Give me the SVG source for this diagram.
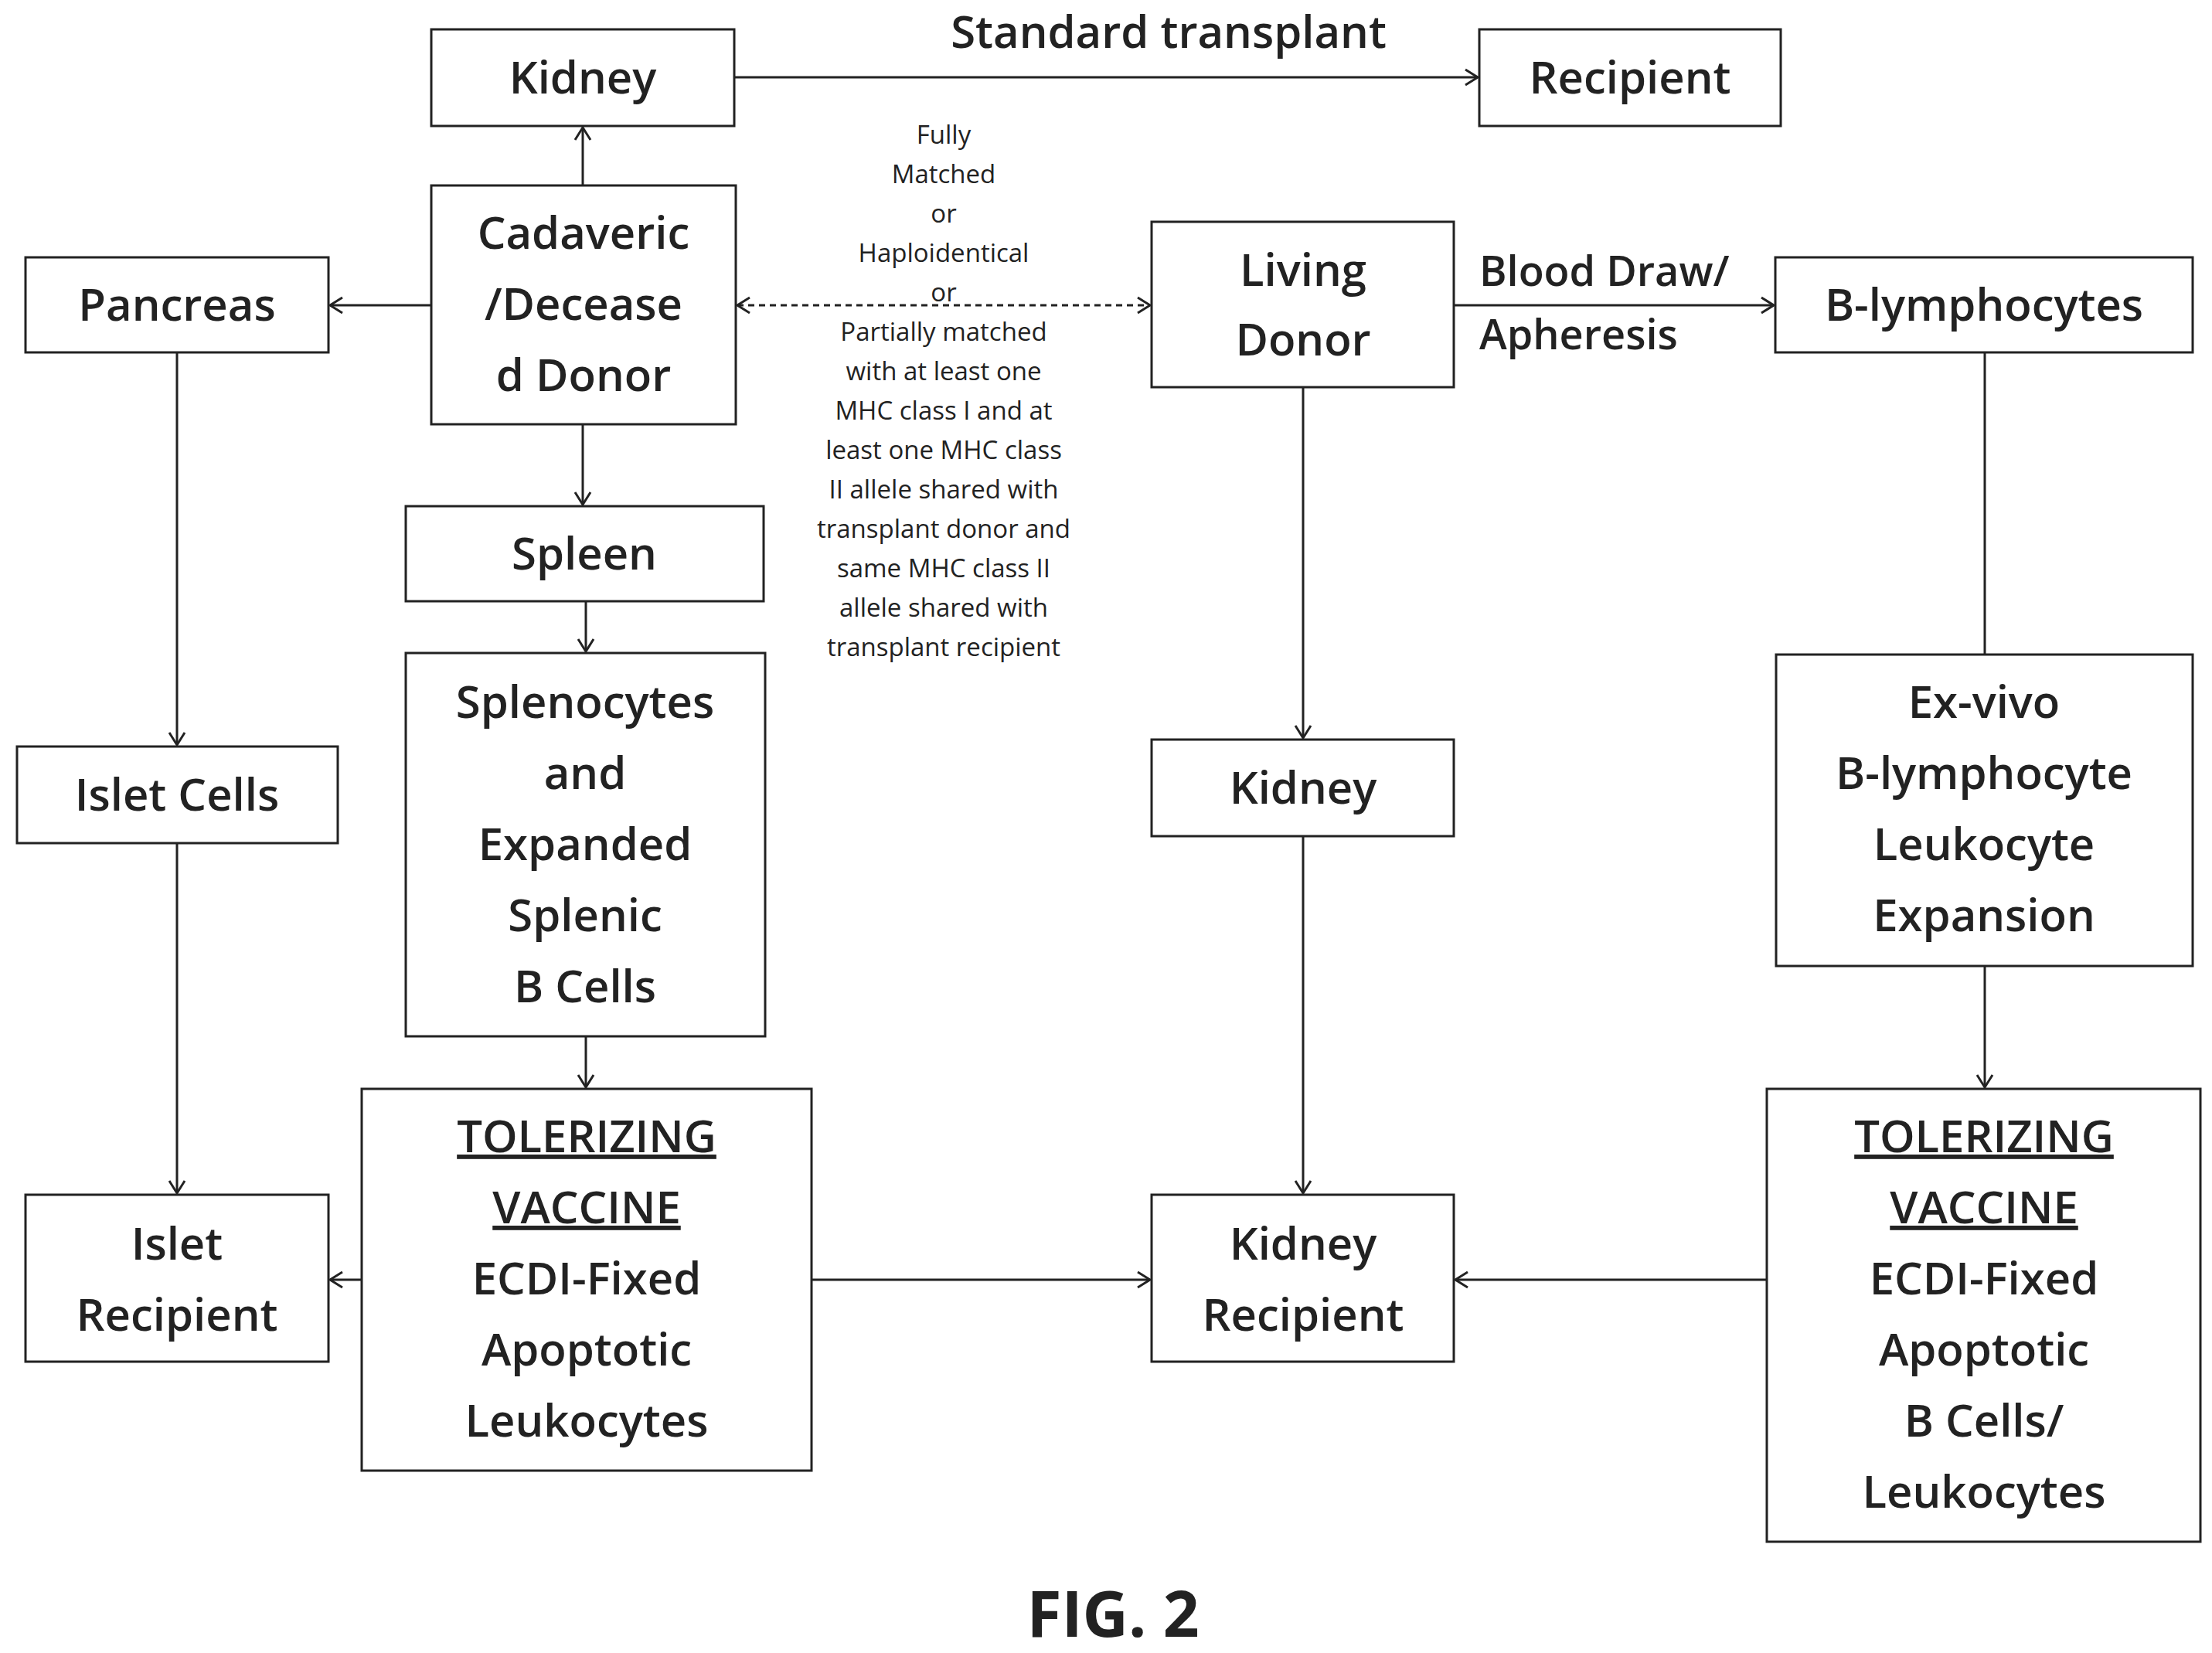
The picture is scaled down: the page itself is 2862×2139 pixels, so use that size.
<svg xmlns="http://www.w3.org/2000/svg" width="2862" height="2139" viewBox="0 0 2862 2139">
<style>
.b{fill:#fff;stroke:#222;stroke-width:3}
.t{font-family:"Open Sans",sans-serif;font-weight:600;font-size:58px;fill:#222;text-anchor:middle}
.l{font-family:"Open Sans",sans-serif;font-weight:600;font-size:54px;fill:#222;text-anchor:start}
.s{font-family:"Open Sans",sans-serif;font-size:33px;fill:#222;text-anchor:middle}
.c{stroke:#222;stroke-width:3;fill:none;marker-end:url(#a)}
</style>
<defs><marker id="a" markerWidth="24" markerHeight="24" refX="20" refY="12" orient="auto-start-reverse" markerUnits="userSpaceOnUse"><polyline points="4,2 20,12 4,22" fill="none" stroke="#222" stroke-width="3"/></marker></defs>
<rect width="2862" height="2139" fill="#fff"/>
<g id="connectors">
<line class="c" x1="950" y1="100" x2="1912" y2="100"/>
<line class="c" x1="754" y1="240" x2="754" y2="165"/>
<line class="c" x1="558" y1="395" x2="427" y2="395"/>
<line class="c" x1="954" y1="395" x2="1488" y2="395" stroke-dasharray="8,6" marker-start="url(#a)"/>
<line class="c" x1="754" y1="549" x2="754" y2="653"/>
<line class="c" x1="758" y1="778" x2="758" y2="843"/>
<line class="c" x1="758" y1="1341" x2="758" y2="1407"/>
<line class="c" x1="229" y1="456" x2="229" y2="964"/>
<line class="c" x1="229" y1="1091" x2="229" y2="1544"/>
<line class="c" x1="468" y1="1656" x2="427" y2="1656"/>
<line class="c" x1="1050" y1="1656" x2="1488" y2="1656"/>
<line class="c" x1="2286" y1="1656" x2="1883" y2="1656"/>
<line class="c" x1="1686" y1="501" x2="1686" y2="955"/>
<line class="c" x1="1686" y1="1082" x2="1686" y2="1544"/>
<line class="c" x1="1881" y1="395" x2="2295" y2="395"/>
<line x1="2568" y1="456" x2="2568" y2="847" stroke="#222" stroke-width="3"/>
<line class="c" x1="2568" y1="1250" x2="2568" y2="1407"/>
<text class="t" x="1512" y="62" font-size="54">Standard transplant</text>
<text class="l" x="1914" y="370">Blood Draw/</text>
<text class="l" x="1914" y="452">Apheresis</text>
<g class="s"><text x="1221" y="186">Fully</text><text x="1221" y="237">Matched</text><text x="1221" y="288">or</text><text x="1221" y="339">Haploidentical</text><text x="1221" y="390">or</text><text x="1221" y="441">Partially matched</text><text x="1221" y="492">with at least one</text><text x="1221" y="543">MHC class I and at</text><text x="1221" y="594">least one MHC class</text><text x="1221" y="645">II allele shared with</text><text x="1221" y="696">transplant donor and</text><text x="1221" y="747">same MHC class II</text><text x="1221" y="798">allele shared with</text><text x="1221" y="849">transplant recipient</text></g>
</g>
<g id="kidney1"><rect class="b" x="558" y="38" width="392" height="125"/><text class="t" x="754" y="121">Kidney</text></g>
<g id="recipient"><rect class="b" x="1914" y="38" width="390" height="125"/><text class="t" x="2109" y="121">Recipient</text></g>
<g id="cadaveric"><rect class="b" x="558" y="240" width="394" height="309"/><text class="t" x="755" y="322">Cadaveric</text><text class="t" x="755" y="414">/Decease</text><text class="t" x="755" y="506">d Donor</text></g>
<g id="pancreas"><rect class="b" x="33" y="333" width="392" height="123"/><text class="t" x="229" y="415">Pancreas</text></g>
<g id="living"><rect class="b" x="1490" y="287" width="391" height="214"/><text class="t" x="1686" y="370">Living</text><text class="t" x="1686" y="460">Donor</text></g>
<g id="blymph"><rect class="b" x="2297" y="333" width="540" height="123"/><text class="t" x="2567" y="415">B-lymphocytes</text></g>
<g id="spleen"><rect class="b" x="525" y="655" width="463" height="123"/><text class="t" x="756" y="737">Spleen</text></g>
<g id="splenocytes"><rect class="b" x="525" y="845" width="465" height="496"/><text class="t" x="757" y="929">Splenocytes</text><text class="t" x="757" y="1021">and</text><text class="t" x="757" y="1113">Expanded</text><text class="t" x="757" y="1205">Splenic</text><text class="t" x="757" y="1297">B Cells</text></g>
<g id="islet"><rect class="b" x="22" y="966" width="415" height="125"/><text class="t" x="229" y="1049">Islet Cells</text></g>
<g id="kidney2"><rect class="b" x="1490" y="957" width="391" height="125"/><text class="t" x="1686" y="1040">Kidney</text></g>
<g id="exvivo"><rect class="b" x="2298" y="847" width="539" height="403"/><text class="t" x="2567" y="929">Ex-vivo</text><text class="t" x="2567" y="1021">B-lymphocyte</text><text class="t" x="2567" y="1113">Leukocyte</text><text class="t" x="2567" y="1205">Expansion</text></g>
<g id="tolL"><rect class="b" x="468" y="1409" width="582" height="494"/><text class="t" x="759" y="1491" text-decoration="underline">TOLERIZING</text><text class="t" x="759" y="1583" text-decoration="underline">VACCINE</text><text class="t" x="759" y="1675">ECDI-Fixed</text><text class="t" x="759" y="1767">Apoptotic</text><text class="t" x="759" y="1859">Leukocytes</text></g>
<g id="tolR"><rect class="b" x="2286" y="1409" width="561" height="586"/><text class="t" x="2567" y="1491" text-decoration="underline">TOLERIZING</text><text class="t" x="2567" y="1583" text-decoration="underline">VACCINE</text><text class="t" x="2567" y="1675">ECDI-Fixed</text><text class="t" x="2567" y="1767">Apoptotic</text><text class="t" x="2567" y="1859">B Cells/</text><text class="t" x="2567" y="1951">Leukocytes</text></g>
<g id="isletrec"><rect class="b" x="33" y="1546" width="392" height="216"/><text class="t" x="229" y="1630">Islet</text><text class="t" x="229" y="1722">Recipient</text></g>
<g id="kidneyrec"><rect class="b" x="1490" y="1546" width="391" height="216"/><text class="t" x="1686" y="1630">Kidney</text><text class="t" x="1686" y="1722">Recipient</text></g>
<text x="1440" y="2118" style="font-family:'Open Sans',sans-serif;font-weight:700;font-size:82px;fill:#222;text-anchor:middle">FIG. 2</text>
</svg>
